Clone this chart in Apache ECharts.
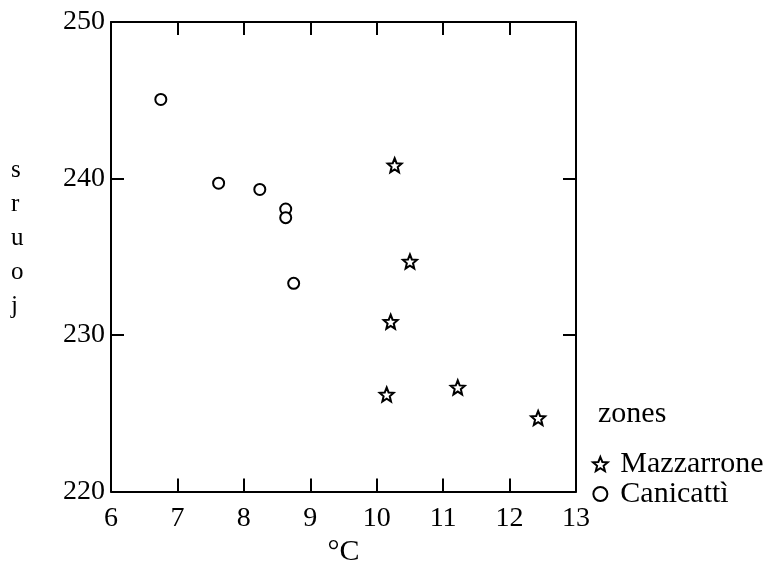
<!DOCTYPE html>
<html>
<head>
<meta charset="utf-8">
<script src="https://cdn.jsdelivr.net/npm/echarts@6/dist/echarts.min.js"></script>
<style>html,body{margin:0;padding:0;background:#fff;}#c{width:775px;height:563px;}</style>
</head>
<body>
<div id="c"></div>
<script>
// Data
const seriesNames = ['Mazzarrone', 'Canicattì'];
const mazzarroneX = [10.27, 10.50, 10.21, 10.15, 11.22, 12.43];
const mazzarroneY = [240.85, 234.7, 230.85, 226.2, 226.65, 224.7];
const canicattiX = [6.75, 7.62, 8.24, 8.63, 8.63, 8.75];
const canicattiY = [245.05, 239.7, 239.3, 238.05, 237.5, 233.3];
const xTicks = [6, 7, 8, 9, 10, 11, 12, 13];
const yTicks = [220, 230, 240, 250];
const xLabel = '°C';
const yLabel = 'jours';
const legendTitle = 'zones';

const FONT = 'Liberation Serif';
const STAR = 'path://M50 0 L62.93 32.2 L97.55 34.55 L70.92 56.8 L79.39 90.45 L50 72 L20.61 90.45 L29.08 56.8 L2.45 34.55 L37.07 32.2 Z';

function pairs(xs, ys) { return xs.map((x, i) => [x, ys[i]]); }

const chart = echarts.init(document.getElementById('c'));
const xMin = xTicks[0], xMax = xTicks[xTicks.length - 1];
const yMin = yTicks[0], yMax = yTicks[yTicks.length - 1];
const axisLine = { show: true, onZero: false, lineStyle: { color: '#000', width: 2 } };
const tick = { show: true, inside: true, length: 13, lineStyle: { color: '#000', width: 2 } };

chart.setOption({
  animation: false,
  backgroundColor: '#fff',
  grid: { left: 111, right: 199, top: 22, bottom: 71.5, containLabel: false, outerBoundsMode: 'none' },
  xAxis: [
    { type: 'value', position: 'bottom', min: xMin, max: xMax, interval: 1,
      axisLine: axisLine, axisTick: tick, splitLine: { show: false },
      axisLabel: { color: '#000', fontFamily: FONT, fontSize: 28, margin: 13 },
      name: xLabel, nameLocation: 'middle', nameGap: 39,
      nameTextStyle: { color: '#000', fontFamily: FONT, fontSize: 30 } },
    { type: 'value', position: 'top', min: xMin, max: xMax, interval: 1,
      axisLine: axisLine, axisTick: tick, splitLine: { show: false },
      axisLabel: { show: false } }
  ],
  yAxis: [
    { type: 'value', position: 'left', min: yMin, max: yMax, interval: 10,
      axisLine: axisLine, axisTick: tick, splitLine: { show: false },
      axisLabel: { color: '#000', fontFamily: FONT, fontSize: 28, margin: 6 } },
    { type: 'value', position: 'right', min: yMin, max: yMax, interval: 10,
      axisLine: axisLine, axisTick: tick, splitLine: { show: false },
      axisLabel: { show: false } }
  ],
  legend: {
    orient: 'vertical', left: 587, top: 444, itemGap: 0,
    itemWidth: 30, itemHeight: 14,
    data: [
      { name: seriesNames[0], icon: STAR },
      { name: seriesNames[1], icon: 'circle' }
    ],
    textStyle: { color: '#000', fontFamily: FONT, fontSize: 30, lineHeight: 28, padding: [0, 0, 0, 0] }
  },
  graphic: [
    { type: 'text', left: 598, top: 399,
      style: { text: legendTitle, fill: '#000', font: '30px "Liberation Serif"' } },
    { type: 'text', left: 11, top: 153,
      style: { text: yLabel.split('').reverse().join('\n'), fill: '#000',
               font: '25px "Liberation Serif"', lineHeight: 34, align: 'left' } }
  ],
  series: [
    { name: seriesNames[0], type: 'scatter', xAxisIndex: 0, yAxisIndex: 0,
      symbol: STAR, symbolSize: 14,
      itemStyle: { color: '#fff', borderColor: '#000', borderWidth: 2, opacity: 1 },
      data: pairs(mazzarroneX, mazzarroneY) },
    { name: seriesNames[1], type: 'scatter', xAxisIndex: 0, yAxisIndex: 0,
      symbol: 'circle', symbolSize: 11,
      itemStyle: { color: '#fff', borderColor: '#000', borderWidth: 2, opacity: 1 },
      data: pairs(canicattiX, canicattiY) }
  ]
});
</script>
</body>
</html>
